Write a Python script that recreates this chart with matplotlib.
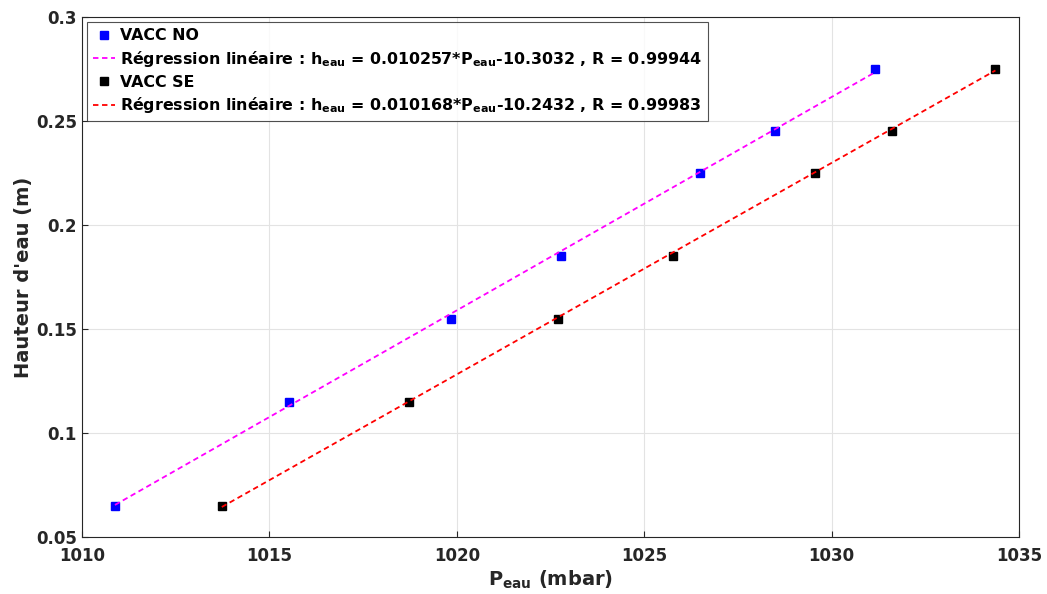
import matplotlib

matplotlib.use("Agg")
import matplotlib.pyplot as plt
import numpy as np

plt.rcParams["font.family"] = ["DejaVu Sans"]
plt.rcParams["font.weight"] = "bold"
plt.rcParams["mathtext.default"] = "bf"

# data
h_eau = [0.065, 0.115, 0.155, 0.185, 0.225, 0.245, 0.275]
p_no = [1010.88, 1015.52, 1019.84, 1022.77, 1026.5, 1028.5, 1031.17]
p_se = [1013.73, 1018.72, 1022.69, 1025.76, 1029.55, 1031.6, 1034.37]

# regression coefficients shown in the legend
a_no, b_no, r_no = 0.010257, -10.3032, 0.99944
a_se, b_se, r_se = 0.010168, -10.2432, 0.99983

fig = plt.figure(figsize=(10.47, 5.94), dpi=100)
ax = fig.add_axes([0.0783, 0.096, 0.895, 0.8755])

x_no = np.array([min(p_no), max(p_no)])
x_se = np.array([min(p_se), max(p_se)])

ax.plot(p_no, h_eau, "s", color="blue", markersize=6, label="VACC NO")
ax.plot(x_no, a_no * x_no + b_no, "--", color="magenta", linewidth=1.3, dashes=(3, 2),
        label=f"Régression linéaire : $h_{{eau}}$ = {a_no}*$P_{{eau}}${b_no} , R = {r_no}")
ax.plot(p_se, h_eau, "s", color="black", markersize=6, label="VACC SE")
ax.plot(x_se, a_se * x_se + b_se, "--", color="red", linewidth=1.3, dashes=(3, 2),
        label=f"Régression linéaire : $h_{{eau}}$ = {a_se}*$P_{{eau}}${b_se} , R = {r_se}")

ax.set_xlim(1010, 1035)
ax.set_ylim(0.05, 0.3)
ax.set_xticks([1010, 1015, 1020, 1025, 1030, 1035])
ax.set_yticks([0.05, 0.1, 0.15, 0.2, 0.25, 0.3])
ax.set_yticklabels(["0.05", "0.1", "0.15", "0.2", "0.25", "0.3"])
ax.tick_params(direction="in", labelsize=12, colors="#262626", length=4)
ax.tick_params(axis="x", pad=7)
ax.grid(True, color="#e3e3e3", linewidth=0.8)
ax.set_axisbelow(True)
for s in ax.spines.values():
    s.set_color("#262626")

ax.set_xlabel("$P_{eau}$ (mbar)", fontsize=14, fontweight="bold", color="#262626", labelpad=3)
ax.set_ylabel("Hauteur d'eau (m)", fontsize=14, fontweight="bold", color="#262626", labelpad=2)

leg = ax.legend(loc="upper left", bbox_to_anchor=(0.005, 0.99),
                fancybox=False, edgecolor="#262626", handlelength=1.4,
                handletextpad=0.3, borderaxespad=0.0, labelspacing=0.35,
                prop={"weight": "bold", "size": 11.4})
leg.get_frame().set_linewidth(0.8)

fig.savefig("out.png", dpi=100)
